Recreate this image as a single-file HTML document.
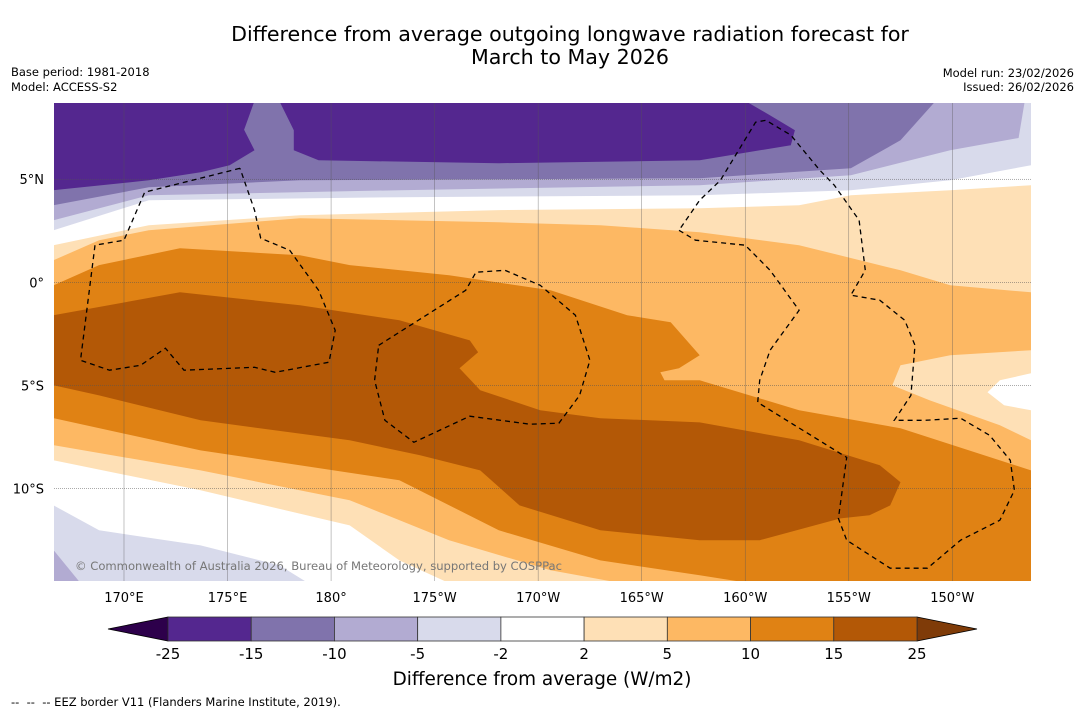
<!DOCTYPE html>
<html><head><meta charset="utf-8"><style>
body{margin:0;background:#fff;width:1085px;height:713px;overflow:hidden;font-family:"DejaVu Sans","Liberation Sans",sans-serif}
</style></head><body>
<svg id="svg" width="1085" height="713" xmlns="http://www.w3.org/2000/svg" font-family="DejaVu Sans, Liberation Sans, sans-serif">
<text x="570" y="41" font-size="20.6" text-anchor="middle">Difference from average outgoing longwave radiation forecast for</text>
<text x="570" y="64" font-size="20.6" text-anchor="middle">March to May 2026</text>
<text x="11" y="76" font-size="11.5">Base period: 1981-2018</text>
<text x="11" y="91" font-size="11.5">Model: ACCESS-S2</text>
<text x="1074" y="77" font-size="11.5" text-anchor="end">Model run: 23/02/2026</text>
<text x="1074" y="91" font-size="11.5" text-anchor="end">Issued: 26/02/2026</text>
<defs><clipPath id="mc"><rect x="54" y="103" width="977" height="478"/></clipPath></defs>
<g id="map" clip-path="url(#mc)"></g>
<g id="axes"></g>
<g id="cbar"></g>
<text x="542" y="685" font-size="18.4" text-anchor="middle">Difference from average (W/m2)</text>
<text x="11" y="706" font-size="11.5" xml:space="preserve">--  --  -- EEZ border V11 (Flanders Marine Institute, 2019).</text>
</svg>
<script>
// contour levels and colours
const levels=[-25,-15,-10,-5,-2,2,5,10,15,25];
const colors=["#54278f","#8073ac","#b2abd2","#d8daeb","#ffffff","#fee0b6","#fdb863","#e08214","#b35806"];
const lonTicks=[170,175,180,185,190,195,200,205,210];
const lonLabels=["170°E","175°E","180°","175°W","170°W","165°W","160°W","155°W","150°W"];
const latTicks=[5,0,-5,-10];
const latLabels=["5°N","0°","5°S","10°S"];
// contour polygons [lon(0-360), lat]
const pos2Top=[[166.6,1.80],[171.2,2.77],[178.5,3.25],[188.1,3.50],[197.8,3.59],[202.6,3.74],[205.1,4.22],[209.9,4.47],[213.8,4.71]];
const pos5Top=[[166.6,1.07],[168.8,2.04],[171.2,2.52],[178.5,3.11],[188.1,2.91],[193,2.77],[197.8,2.43],[202.6,1.80],[207.5,0.58],[209.9,-0.15],[213.8,-0.49]];
const pos2PatchE=[[213.8,-3.30],[209.9,-3.54],[207.5,-4.03],[207.1,-5.0],[208.9,-5.73],[212.3,-6.94],[213.8,-7.67]];
const whitePatchE=[[213.8,-4.42],[212.3,-4.76],[211.7,-5.34],[212.5,-5.97],[213.8,-6.21]];
const pos10Top=[[166.6,-0.15],[168.8,0.83],[172.7,1.65],[178.5,1.31],[180.9,0.83],[185.7,0.34],[190.6,-0.39],[194.3,-1.6],[196.4,-1.94],[197.8,-3.54],[196.8,-4.17],[195.9,-4.37],[196.1,-4.76],[197.8,-4.76],[202.6,-6.21],[207.5,-7.09],[213.8,-9.13]];
const pos15Area=[[166.6,-1.6],[172.7,-0.49],[178.5,-1.12],[183.3,-1.84],[186.7,-2.82],[187.1,-3.4],[186.2,-4.17],[187.2,-5.24],[190.1,-6.21],[193,-6.6],[197.8,-6.8],[202.6,-7.67],[206.5,-8.88],[207.5,-9.71],[207,-10.83],[206,-11.31],[204.6,-11.46],[200.7,-12.52],[197.8,-12.52],[193,-12.04],[189.1,-10.83],[187.2,-9.13],[184.3,-8.4],[180.9,-7.67],[173.7,-6.7],[168.8,-5.49],[166.6,-5.0]];
const pos10Bottom=[[166.6,-6.6],[173.7,-8.16],[183.3,-9.61],[188.1,-12.04],[193,-13.5],[197.8,-14.22],[200.2,-14.6]];
const pos5Bottom=[[166.6,-7.91],[173.7,-9.13],[180.9,-10.58],[185.7,-12.52],[190.6,-13.98],[194,-14.6]];
const pos2Bottom=[[166.6,-8.64],[173.7,-10.1],[180.9,-11.8],[183.3,-13.5],[185.7,-14.6]];
const neg2Bottom=[[166.6,-10.83],[168.8,-12.04],[173.7,-12.77],[177.5,-13.74],[178.9,-14.6]];
const neg5Bottom=[[166.6,-13.0],[167.9,-14.6]];
const neg2Top=[[166.6,2.52],[171.2,3.98],[183.3,4.13],[197.8,4.22],[205.1,4.47],[209.9,4.95],[213.8,5.68]];
const neg5Top=[[166.6,3.01],[171.2,4.22],[183.3,4.47],[197.8,4.71],[205.1,5.19],[209.9,6.41],[213.2,7.0],[213.5,8.8]];
const neg10Top=[[166.6,3.74],[171.2,4.61],[178.5,4.95],[197.8,5.05],[205.1,5.53],[207.5,6.89],[209.2,8.8]];
const neg15W=[[166.6,8.8],[176.3,8.8],[175.8,7.4],[176.3,6.41],[175.1,5.68],[173.7,5.34],[171.2,4.95],[166.6,4.47]];
const neg15C=[[177.5,8.8],[178.2,7.38],[178.2,6.41],[179.4,5.92],[188.1,5.78],[197.8,5.92],[202.2,6.65],[202.4,7.38],[201.2,8.1],[200,8.8]];
// EEZ borders
const eezA=[[175.6,5.53],[171.0,4.37],[170.0,2.04],[168.6,1.80],[167.9,-3.79],[169.3,-4.27],[170.8,-4.03],[172.0,-3.2],[172.9,-4.27],[176.3,-4.13],[177.3,-4.37],[179.9,-3.88],[180.2,-2.33],[179.4,-0.39],[178.0,1.55],[176.6,2.14],[176.3,3.5],[175.6,5.53]];
const eezB=[[182.3,-3.06],[186.5,-0.39],[187.0,0.49],[188.4,0.58],[190.1,-0.15],[191.8,-1.6],[192.5,-3.79],[192.0,-5.49],[191.0,-6.84],[189.6,-6.89],[186.7,-6.5],[184.0,-7.77],[182.6,-6.7],[182.1,-4.76],[182.3,-3.06]];
const eezC=[[196.8,2.52],[197.6,2.04],[200.0,1.8],[201.2,0.58],[202.6,-1.36],[201.2,-3.3],[200.7,-4.76],[200.6,-5.83],[204.9,-8.5],[204.5,-11.46],[204.9,-12.52],[207.0,-13.88],[208.8,-13.88],[210.4,-12.52],[212.3,-11.55],[213.0,-10.1],[212.8,-8.64],[211.8,-7.43],[210.4,-6.6],[208.7,-6.7],[207.2,-6.7],[208.0,-5.49],[208.2,-3.06],[207.7,-1.84],[206.5,-0.87],[205.1,-0.63],[205.8,0.58],[205.5,3.01],[204.3,4.71],[203.6,5.44],[202.2,7.14],[201.0,7.86],[200.5,7.77],[198.8,4.95],[197.8,3.98],[196.8,2.52]];

const NS="http://www.w3.org/2000/svg";
const X0=54,X1=1031,Y0=103,Y1=581;
const lonMin=166.62,lonMax=213.8,latMax=8.7,latMin=-14.5;
const xs=lon=>X0+(lon-lonMin)/(lonMax-lonMin)*(X1-X0);
const ys=lat=>Y0+(latMax-lat)/(latMax-latMin)*(Y1-Y0);
const map=document.getElementById('map'),axes=document.getElementById('axes'),cbar=document.getElementById('cbar');
function mk(tag,attrs,parent){const e=document.createElementNS(NS,tag);for(const k in attrs)e.setAttribute(k,attrs[k]);parent.appendChild(e);return e;}
const pts=a=>a.map(p=>xs(p[0]).toFixed(1)+','+ys(p[1]).toFixed(1)).join(' ');
const BL=[lonMin-1,latMin-1],BR=[lonMax+1,latMin-1],TL=[lonMin-1,latMax+1],TR=[lonMax+1,latMax+1];
function poly(arr,fill,name){const e=mk('polygon',{points:pts(arr),fill:fill},map);

}
mk('rect',{x:X0,y:Y0,width:X1-X0,height:Y1-Y0,fill:colors[4]},map);
poly([...pos2Top,BR,BL],colors[5],'band-2-to-5');
poly([...pos5Top,BR,BL],colors[6],'band-5-to-10');
poly(pos2PatchE,colors[5],'band-2-to-5-east-patch');
poly(whitePatchE,colors[4],'band-neutral-east-patch');
poly([...pos10Top,BR,BL],colors[7],'band-10-to-15');
poly(pos15Area,colors[8],'band-15-to-25');
poly([...pos10Bottom,BR,BL],colors[6],'band-5-to-10-south');
poly([...pos5Bottom,BR,BL],colors[5],'band-2-to-5-south');
poly([...pos2Bottom,BR,BL],colors[4],'band-neutral-south');
poly([...neg2Bottom,BL],colors[3],'band-neg5-to-neg2-south');
poly([...neg5Bottom,BL],colors[2],'band-neg10-to-neg5-south');
poly([TL,...neg2Top,TR],colors[3],'band-neg5-to-neg2');
poly([TL,...neg5Top,TR],colors[2],'band-neg10-to-neg5');
poly([TL,...neg10Top],colors[1],'band-neg15-to-neg10');
poly(neg15W,colors[0],'band-neg25-to-neg15-west');
poly(neg15C,colors[0],'band-neg25-to-neg15-central');
// grid
lonTicks.forEach((l,i)=>{const x=xs(l);
const g=mk('line',{x1:x,x2:x,y1:Y0,y2:Y1,stroke:'#555','stroke-width':0.5,'stroke-opacity':0.7},map);


const t=mk('text',{x:x,y:602,'font-size':13,'text-anchor':'middle'},axes);t.textContent=lonLabels[i];

});
latTicks.forEach((l,i)=>{const y=ys(l);
const g=mk('line',{x1:X0,x2:X1,y1:y,y2:y,stroke:'#555','stroke-width':0.5,'stroke-dasharray':'1,1'},map);


const t=mk('text',{x:44,y:y+5,'font-size':13,'text-anchor':'end'},axes);t.textContent=latLabels[i];

});
[eezA,eezB,eezC].forEach(a=>{const e=mk('polyline',{points:pts(a),fill:'none',stroke:'#000','stroke-width':1.3,'stroke-dasharray':'5,4'},map);

});
const ct=mk('text',{x:75,y:570,'font-size':11.6,fill:'#777'},map);ct.textContent='© Commonwealth of Australia 2026, Bureau of Meteorology, supported by COSPPac';


ct.setAttribute('textLength','487');
// colorbar
const CB0=168,CB1=917,CY=617,CH=24,n=colors.length,w=(CB1-CB0)/n;
const lt=mk('polygon',{points:`${CB0},${CY} ${108},${CY+CH/2} ${CB0},${CY+CH}`,fill:'#2d004b',stroke:'#000','stroke-width':0.8},cbar);


const rt=mk('polygon',{points:`${CB1},${CY} ${977},${CY+CH/2} ${CB1},${CY+CH}`,fill:'#7f3b08',stroke:'#000','stroke-width':0.8},cbar);


colors.forEach((c,i)=>{const r=mk('rect',{x:CB0+i*w,y:CY,width:w,height:CH,fill:c,stroke:'#333','stroke-width':0.8},cbar);

});
levels.forEach((v,i)=>{const t=mk('text',{x:CB0+i*w,y:659,'font-size':15,'text-anchor':'middle'},cbar);t.textContent=v;

});
</script>
</body></html>
